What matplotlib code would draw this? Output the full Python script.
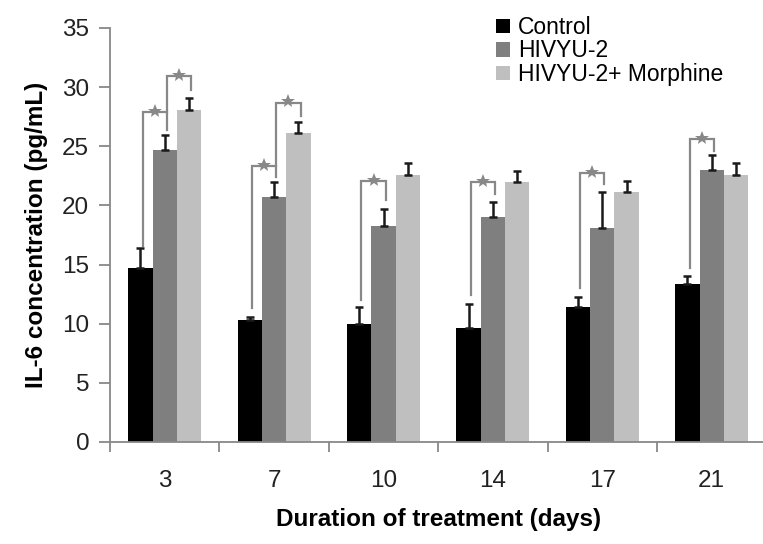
import matplotlib
matplotlib.use("Agg")
import matplotlib.pyplot as plt
import numpy as np
from matplotlib.patches import Patch

plt.rcParams['font.family'] = ['Liberation Sans', 'DejaVu Sans']

days = ["3", "7", "10", "14", "17", "21"]
series = ["Control", "HIVYU-2", "HIVYU-2+ Morphine"]
control = [14.75, 10.3, 9.95, 9.6, 11.45, 13.35]
control_err = [1.65, 0.3, 1.5, 2.1, 0.85, 0.65]
hivyu = [24.7, 20.7, 18.3, 19.0, 18.05, 23.0]
hivyu_err = [1.25, 1.25, 1.4, 1.25, 3.1, 1.25]
morph = [28.1, 26.1, 22.6, 21.95, 21.15, 22.6]
morph_err = [0.95, 0.95, 0.95, 0.95, 0.95, 0.95]

# significance brackets: (group, left bar, right bar, top, left leg bottom, right leg bottom)
brackets = [
    (0, 0, 1, 27.9, 16.6, 26.4),
    (0, 1, 2, 30.95, 27.9, 29.75),
    (1, 0, 1, 23.35, 11.3, 22.4),
    (1, 1, 2, 28.7, 23.35, 27.6),
    (2, 0, 1, 22.05, 12.0, 20.5),
    (3, 0, 1, 21.95, 12.4, 20.95),
    (4, 0, 1, 22.7, 13.0, 21.85),
    (5, 0, 1, 25.6, 14.7, 24.6),
]

colors = ["#000000", "#7f7f7f", "#bfbfbf"]
values = [control, hivyu, morph]
errs = [control_err, hivyu_err, morph_err]

W, H = 763, 544
fig = plt.figure(figsize=(W / 100, H / 100), dpi=100)
ax = fig.add_axes([110 / W, 102 / H, 656.4 / W, 414 / H])

x = np.arange(len(days))
bw = 1 / 4.5
for i in range(3):
    pos = x + (i - 1) * bw
    ax.bar(pos, values[i], bw, color=colors[i], zorder=2)
    ax.errorbar(pos, values[i], yerr=[np.zeros(len(days)), errs[i]], fmt='none',
                ecolor='#1a1a1a', elinewidth=1.8, capsize=3, capthick=1.8, zorder=3)

gray = "#888888"
for g, l, r, top, lb, rb in brackets:
    xl = g + (l - 1) * bw + 0.02
    xr = g + (r - 1) * bw + 0.02
    ax.plot([xl, xl, xr, xr], [lb, top, top, rb], color=gray, lw=1.6, zorder=4,
            solid_joinstyle='miter')
    ax.plot([(xl + xr) / 2], [top + 0.1], marker='*', color=gray, markersize=10.5,
            markeredgewidth=0, zorder=5)

ax.set_xlim(-0.5, len(days) - 0.5)
ax.set_ylim(0, 35)
ax.set_yticks(np.arange(0, 36, 5))
ax.set_xticks(x)
ax.set_xticklabels(days)
ax.set_xticks(np.arange(-0.5, len(days), 1.0), minor=True)

for s in ['top', 'right']:
    ax.spines[s].set_visible(False)
for s in ['left', 'bottom']:
    ax.spines[s].set_color('#888888')
    ax.spines[s].set_linewidth(1.3)

fs = 17.5
ax.tick_params(axis='y', direction='out', length=8, width=1.3, color='#888888',
               labelsize=fs, pad=7, labelcolor='#222222')
ax.tick_params(axis='x', which='major', length=0, labelsize=fs, pad=20, labelcolor='#222222')
ax.tick_params(axis='x', which='minor', direction='out', length=7, width=1.3, color='#888888')

ax.set_xlabel("Duration of treatment (days)", fontsize=fs, fontweight='bold', labelpad=12)
ax.set_ylabel("IL-6 concentration (pg/mL)", fontsize=fs, fontweight='bold', labelpad=10)

handles = [Patch(facecolor=c, edgecolor='none') for c in colors]
leg = ax.legend(handles, series, loc='upper left', bbox_to_anchor=(496 / W, 1 - 16 / H),
                bbox_transform=fig.transFigure, frameon=False, fontsize=16.5,
                handlelength=0.6, handleheight=0.6, handletextpad=0.35, labelspacing=0.02,
                borderpad=0, borderaxespad=0)

fig.savefig("out.png", dpi=100)
